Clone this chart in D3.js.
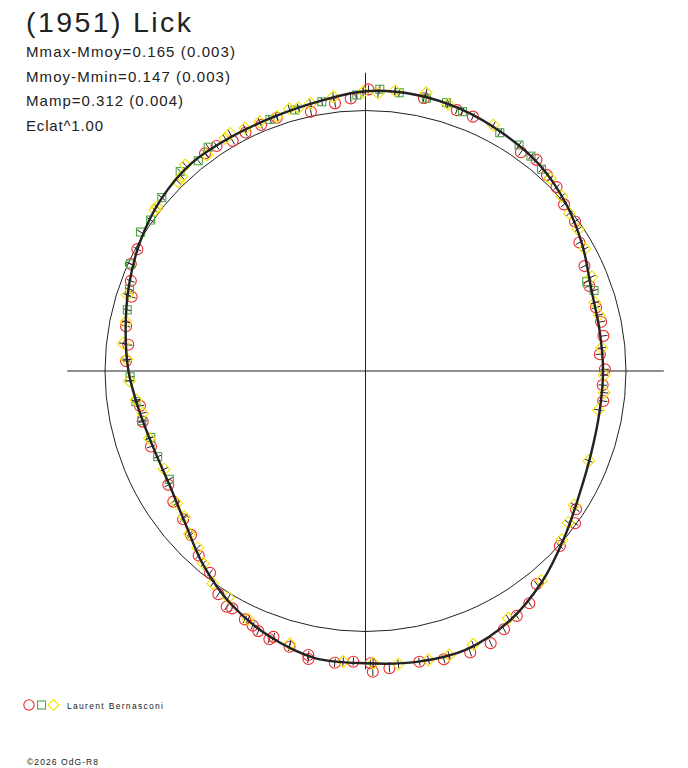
<!DOCTYPE html>
<html>
<head>
<meta charset="utf-8">
<script src="https://cdn.jsdelivr.net/npm/d3@7"></script>
<style>
	body { margin: 0; background: #fff; }
	svg { display: block; font-family: "Liberation Sans", Arial, sans-serif; }
</style>
</head>
<body>
<svg id="chart" width="688" height="768"></svg>
<script>
const title = "(1951) Lick";
const infoLines = ["Mmax-Mmoy=0.165 (0.003)", "Mmoy-Mmin=0.147 (0.003)", "Mamp=0.312 (0.004)", "Eclat^1.00"];
const observer = "Laurent Bernasconi";
const credit = "\u00A92026 OdG-R8";

// [phase angle in degrees (counter-clockwise from +x), relative flux]
const fitCurve = [
	[0, 0.912], [10, 0.912], [20, 0.922], [30, 0.962], [40, 1.003], [50, 1.036],
	[60, 1.054], [70, 1.070], [80, 1.078], [90, 1.074], [100, 1.050], [110, 1.037],
	[120, 1.036], [130, 1.040], [140, 1.025], [150, 0.998], [160, 0.966], [170, 0.935],
	[180, 0.910], [190, 0.882], [200, 0.866], [210, 0.870], [220, 0.905], [230, 0.970],
	[240, 1.033], [250, 1.083], [260, 1.119], [270, 1.122], [280, 1.134], [290, 1.137],
	[300, 1.107], [310, 1.055], [320, 0.996], [330, 0.948], [340, 0.922], [350, 0.912]
];

const redObs = [
	[89.4, 1.081], [93.1, 1.048], [96.5, 1.034], [101.9, 1.017], [109.3, 1.030], [113.0, 1.026],
	[116.7, 1.025], [120.0, 1.020], [123.5, 1.036], [126.4, 1.038], [151.9, 0.993], [155.5, 0.990],
	[77.9, 1.071], [70.7, 1.061], [67.1, 1.060], [54.6, 1.030], [51.0, 1.043], [47.2, 1.025],
	[43.9, 1.018], [40.0, 0.995], [35.5, 0.988], [31.0, 0.958], [25.6, 0.932],
	[20.8, 0.919], [15.4, 0.918], [11.8, 0.924], [8.4, 0.923], [4.1, 0.902], [0.4, 0.919],
	[-3.4, 0.912], [-7.2, 0.920],
	[-33.3, 0.967], [-36.0, 0.994], [-42.0, 1.004], [-51.2, 1.049], [-54.8, 1.091], [-58.3, 1.105],
	[-61.8, 1.125], [-65.3, 1.150], [-69.6, 1.153], [-74.8, 1.147], [-79.5, 1.135], [-85.4, 1.145],
	[-89.0, 1.122], [-88.6, 1.155],
	[210.0, 0.874], [214.2, 0.892], [219.1, 0.902], [223.2, 0.919], [227.9, 0.955], [232.4, 0.978],
	[236.6, 1.026], [239.5, 1.050], [240.7, 1.045], [244.1, 1.060], [246.1, 1.069], [247.6, 1.080],
	[250.3, 1.094], [250.9, 1.080], [254.6, 1.098], [258.6, 1.112], [258.8, 1.127], [264.0, 1.126],
	[267.6, 1.117],
	[159.0, 0.965], [162.4, 0.942], [169.4, 0.935], [173.7, 0.916], [177.6, 0.920], [188.8, 0.876],
	[192.8, 0.877], [199.4, 0.873]
];

const greenObs = [
	[91.8, 1.060], [99.2, 1.047], [105.1, 1.038], [110.8, 1.033], [125.1, 1.050], [128.5, 1.031],
	[132.9, 1.045], [139.6, 1.027], [144.9, 1.008], [148.3, 1.015], [155.5, 0.991],
	[87.1, 1.083], [83.1, 1.076], [77.4, 1.073], [73.2, 1.076], [69.5, 1.063], [60.6, 1.050],
	[55.8, 1.049], [52.4, 1.041], [48.9, 1.028],
	[22.0, 0.916], [19.4, 0.930],
	[160.9, 0.959], [165.6, 0.944], [181.4, 0.904], [187.6, 0.889], [192.5, 0.880], [197.2, 0.863],
	[202.4, 0.863], [208.9, 0.860]
];

const yellowObs = [
	[90.5, 1.071],
	[96.7, 1.060], [101.6, 1.049], [104.3, 1.043], [106.2, 1.048], [109.2, 1.034], [113.0, 1.039],
	[116.4, 1.040], [119.7, 1.050], [121.1, 1.043], [126.3, 1.029], [131.2, 1.051], [133.4, 1.027],
	[134.7, 1.022], [141.8, 1.020], [142.6, 1.017],
	[87.4, 1.067], [84.0, 1.082], [77.7, 1.093], [72.8, 1.072], [62.5, 1.064], [46.2, 1.024],
	[41.7, 1.009], [37.7, 0.989], [33.7, 0.980], [29.1, 0.964],
	[22.6, 0.941], [16.6, 0.919], [13.5, 0.922], [5.6, 0.911], [-1.0, 0.916], [-5.2, 0.920],
	[-9.5, 0.906], [-21.9, 0.924], [-32.7, 0.952],
	[-36.8, 0.972], [-40.7, 0.994], [-50.0, 1.051], [-60.0, 1.096], [-68.5, 1.128], [-73.6, 1.137],
	[-77.7, 1.135], [-83.6, 1.132], [-88.5, 1.122],
	[215.0, 0.885], [218.8, 0.893], [222.8, 0.921], [226.5, 0.935], [229.9, 0.966], [234.3, 1.004],
	[238.8, 1.016], [244.7, 1.054], [254.5, 1.087], [265.6, 1.119],
	[162.3, 0.960], [168.4, 0.939], [173.5, 0.936], [177.2, 0.918], [182.4, 0.907], [187.2, 0.888],
	[190.7, 0.871], [197.3, 0.869], [206.0, 0.860]
];

const errFlux = 0.016;    // half length of the error bars
const axisExtent = 1.145; // axes length, in flux units

const colors = { red: "#ee2b2b", green: "#4fa84a", yellow: "#f4e400", ink: "#222" };

const svg = d3.select("#chart");

// Polar frame
const cx = 365.5, cy = 371;
const r = d3.scaleLinear().domain([0, 1]).range([0, 260.5]);
const toRad = (deg) => ((90 - deg) * Math.PI) / 180;
const pos = (d, f) => d3.pointRadial(toRad(d[0]), r(f === undefined ? d[1] : f));

const g = svg.append("g").attr("transform", `translate(${cx},${cy})`);

// Axes
g.append("line")
	.attr("x1", -r(axisExtent)).attr("x2", r(axisExtent))
	.attr("y1", 0).attr("y2", 0)
	.attr("stroke", colors.ink).attr("stroke-width", 1);
g.append("line")
	.attr("x1", 0).attr("x2", 0)
	.attr("y1", -r(axisExtent)).attr("y2", r(axisExtent))
	.attr("stroke", colors.ink).attr("stroke-width", 1);

// Reference circle (mean brightness)
g.append("circle")
	.attr("r", r(1))
	.attr("fill", "none")
	.attr("stroke", colors.ink)
	.attr("stroke-width", 1);

// Observations
const diamond = (s) => `M0,${-s}L${s},0L0,${s}L${-s},0Z`;
const series = [
	{ data: redObs, color: colors.red, shape: "circle" },
	{ data: greenObs, color: colors.green, shape: "square" },
	{ data: yellowObs, color: colors.yellow, shape: "diamond" }
];

for (const s of series) {
	const grp = g.append("g");

	// error bars (radial)
	grp.selectAll("line.err")
		.data(s.data)
		.enter()
		.append("line")
		.attr("class", "err")
		.attr("x1", (d) => pos(d, d[1] - errFlux)[0])
		.attr("y1", (d) => pos(d, d[1] - errFlux)[1])
		.attr("x2", (d) => pos(d, d[1] + errFlux)[0])
		.attr("y2", (d) => pos(d, d[1] + errFlux)[1])
		.attr("stroke", colors.ink)
		.attr("stroke-width", 1);

	const marks = grp.selectAll("g.mark")
		.data(s.data)
		.enter()
		.append("g")
		.attr("class", "mark")
		.attr("transform", (d) => `translate(${pos(d)[0]},${pos(d)[1]})`);

	if (s.shape === "circle") {
		marks.append("circle").attr("r", 5.5);
	} else if (s.shape === "square") {
		marks.append("rect").attr("x", -4).attr("y", -4).attr("width", 8).attr("height", 8);
	} else {
		marks.append("path").attr("d", diamond(6));
	}
	marks.selectAll("*")
		.attr("fill", "none")
		.attr("stroke", s.color)
		.attr("stroke-width", 1.1);
}

// Fitted lightcurve
const fitLine = d3.lineRadial()
	.angle((d) => toRad(d[0]))
	.radius((d) => r(d[1]))
	.curve(d3.curveCardinalClosed.tension(0));

g.append("path")
	.datum(fitCurve)
	.attr("d", fitLine)
	.attr("fill", "none")
	.attr("stroke", colors.ink)
	.attr("stroke-width", 2.4);

// Header texts
svg.append("text")
	.attr("x", 26).attr("y", 32)
	.attr("font-size", 28.5)
	.attr("fill", colors.ink)
	.attr("textLength", 165)
	.attr("lengthAdjust", "spacing")
	.text(title);

const infoWidths = [209, 204, 157, 77];
svg.selectAll("text.info")
	.data(infoLines)
	.enter()
	.append("text")
	.attr("class", "info")
	.attr("x", 26)
	.attr("y", (d, i) => 57 + i * 24.6)
	.attr("font-size", 15)
	.attr("fill", colors.ink)
	.attr("textLength", (d, i) => infoWidths[i])
	.attr("lengthAdjust", "spacing")
	.text((d) => d);

// Legend
const lg = svg.append("g").attr("transform", "translate(0,705)");
lg.append("circle").attr("cx", 29).attr("r", 5.2)
	.attr("fill", "none").attr("stroke", colors.red).attr("stroke-width", 1.1);
lg.append("rect").attr("x", 37.5).attr("y", -4).attr("width", 8).attr("height", 8)
	.attr("fill", "none").attr("stroke", colors.green).attr("stroke-width", 1.1);
lg.append("path").attr("d", diamond(5.5)).attr("transform", "translate(53.5,0)")
	.attr("fill", "none").attr("stroke", colors.yellow).attr("stroke-width", 1.1);
lg.append("text")
	.attr("x", 67).attr("y", 3.5)
	.attr("font-size", 8.5)
	.attr("fill", colors.ink)
	.attr("textLength", 96)
	.attr("lengthAdjust", "spacing")
	.text(observer);

svg.append("text")
	.attr("x", 27).attr("y", 765)
	.attr("font-size", 8.5)
	.attr("fill", colors.ink)
	.attr("textLength", 71)
	.attr("lengthAdjust", "spacing")
	.text(credit);
</script>
</body>
</html>
